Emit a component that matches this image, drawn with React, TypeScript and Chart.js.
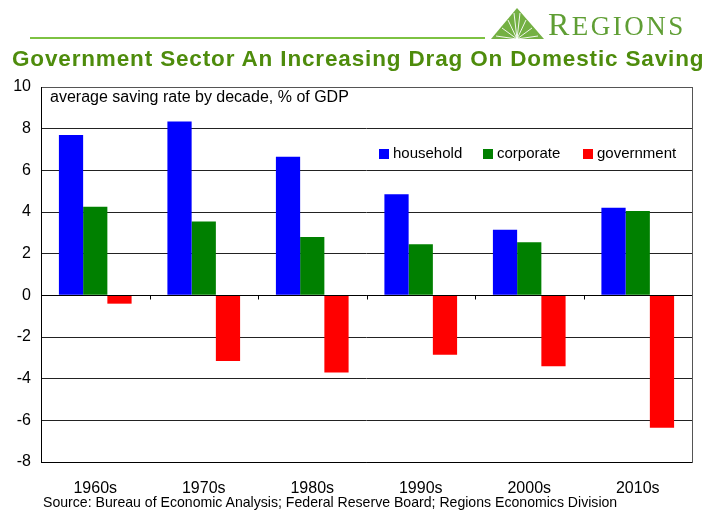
import React, { useEffect, useRef } from "react";
import { Chart, registerables } from "chart.js";
Chart.register(...registerables);

const categories = ["1960s", "1970s", "1980s", "1990s", "2000s", "2010s"];
const household = [7.7, 8.35, 6.65, 4.85, 3.15, 4.2];
const corporate = [4.25, 3.55, 2.8, 2.45, 2.55, 4.05];
const government = [-0.4, -3.15, -3.7, -2.85, -3.4, -6.35];
const seriesNames = ["household", "corporate", "government"];
const seriesColors = ["#0000ff", "#008000", "#ff0000"];
const yMin = -8;
const yMax = 10;
const yStep = 2;
const titleText = "Government Sector An Increasing Drag On Domestic Saving";
const subtitleText = "average saving rate by decade, % of GDP";
const sourceText = "Source: Bureau of Economic Analysis; Federal Reserve Board; Regions Economics Division";

const FONT = "'Liberation Sans', Arial, sans-serif";

const framePlugin = {
  id: "frame",
  afterDatasetsDraw(chart: any) {
    const { ctx, chartArea, scales } = chart;
    const { left, right, top, bottom } = chartArea;
    ctx.save();
    // zero line
    const y0 = Math.round(scales.y.getPixelForValue(0)) + 0.5;
    ctx.strokeStyle = "#000";
    ctx.lineWidth = 1;
    ctx.beginPath();
    ctx.moveTo(left, y0);
    ctx.lineTo(right, y0);
    ctx.stroke();
    // category tick marks on zero line
    const n = categories.length;
    for (let i = 1; i < n; i++) {
      const x = Math.round((scales.x.getPixelForValue(i - 1) + scales.x.getPixelForValue(i)) / 2) + 0.5;
      ctx.beginPath();
      ctx.moveTo(x, y0);
      ctx.lineTo(x, y0 + 4);
      ctx.stroke();
    }
    // frame
    ctx.strokeStyle = "#555";
    ctx.strokeRect(Math.round(left) + 0.5, Math.round(top) + 0.5, Math.round(right - left), Math.round(bottom - top));
    ctx.strokeStyle = "#000";
    ctx.beginPath();
    ctx.moveTo(Math.round(left) + 0.5, top);
    ctx.lineTo(Math.round(left) + 0.5, bottom);
    ctx.moveTo(left, Math.round(bottom) + 0.5);
    ctx.lineTo(right, Math.round(bottom) + 0.5);
    ctx.stroke();
    // subtitle
    ctx.fillStyle = "#000";
    ctx.font = `16px ${FONT}`;
    ctx.textBaseline = "middle";
    ctx.textAlign = "left";
    ctx.fillText(subtitleText, left + 9, top + 11);
    // legend
    ctx.font = `15px ${FONT}`;
    const legendX = [right - 313, right - 209, right - 109];
    const legendY = 154;
    chart.data.datasets.forEach((ds: any, i: number) => {
      ctx.fillStyle = ds.backgroundColor;
      ctx.fillRect(legendX[i], legendY - 5, 10, 10);
      ctx.fillStyle = "#000";
      ctx.fillText(ds.label, legendX[i] + 14, legendY);
    });
    ctx.restore();
  },
};

function ChartView() {
  const ref = useRef<HTMLCanvasElement>(null);
  useEffect(() => {
    if (!ref.current) return;
    const chart = new Chart(ref.current, {
      type: "bar",
      data: {
        labels: categories,
        datasets: [household, corporate, government].map((d, i) => ({
          label: seriesNames[i],
          data: d,
          backgroundColor: seriesColors[i],
          borderWidth: 0,
          categoryPercentage: 0.67,
          barPercentage: 1,
        })),
      },
      options: {
        animation: false,
        responsive: false,
        layout: { padding: { top: 87, right: 31, left: 0, bottom: 0 } },
        plugins: { legend: { display: false }, tooltip: { enabled: false } },
        scales: {
          x: {
            grid: { display: false, drawTicks: false },
            border: { display: false },
            ticks: { color: "#000", font: { family: FONT, size: 16 }, padding: 17 },
            afterFit: (s: any) => { s.height = 50; },
          },
          y: {
            min: yMin,
            max: yMax,
            grid: { color: "#222", drawTicks: false, lineWidth: 1 },
            border: { display: false },
            ticks: { stepSize: yStep, color: "#000", font: { family: FONT, size: 16 }, padding: 10 },
            afterFit: (s: any) => { s.width = 41; },
          },
        },
      },
      plugins: [framePlugin],
    });
    return () => chart.destroy();
  }, []);
  return <canvas ref={ref} width={723} height={512} style={{ position: "absolute", left: 0, top: 0, width: 723, height: 512 }} />;
}

function Logo() {
  const rays = [
    [6, 30], [12, 22], [18, 14], [24, 7], [30, 7], [36, 14], [42, 22], [48, 30],
  ];
  return (
    <div style={{ position: "absolute", left: 490, top: 6, width: 200, height: 36 }}>
      <svg width={56} height={34} style={{ position: "absolute", left: 0, top: 0 }}>
        <polygon points="1,33 27,2 54,33" fill="#74b043" />
        {rays.map((r, i) => (
          <line key={i} x1={27} y1={33} x2={r[0]} y2={r[1]} stroke="#ffffff" strokeWidth={0.9} />
        ))}
      </svg>
      <div
        style={{
          position: "absolute",
          left: 58,
          top: 0,
          fontFamily: "'Liberation Serif', 'DejaVu Serif', serif",
          color: "#5f9e34",
          whiteSpace: "nowrap",
          letterSpacing: 2.5,
          lineHeight: "36px",
        }}
      >
        <span style={{ fontSize: 32 }}>R</span>
        <span style={{ fontSize: 27 }}>EGIONS</span>
      </div>
    </div>
  );
}

export default function App() {
  return (
    <div style={{ position: "absolute", left: 0, top: 0, width: 723, height: 512, background: "#fff", overflow: "hidden" }}>
      <ChartView />
      <div style={{ position: "absolute", left: 30, top: 37, width: 455, height: 2, background: "#7dc242" }} />
      <Logo />
      <div
        style={{
          position: "absolute",
          left: 12,
          top: 46,
          fontFamily: FONT,
          fontWeight: "bold",
          fontSize: 22.5,
          letterSpacing: 0.85,
          color: "#4e8c0c",
          whiteSpace: "nowrap",
          lineHeight: "26px",
        }}
      >
        {titleText}
      </div>
      <div
        style={{
          position: "absolute",
          left: 43,
          top: 494,
          fontFamily: FONT,
          fontSize: 14.1,
          color: "#000",
          whiteSpace: "nowrap",
          lineHeight: "17px",
        }}
      >
        {sourceText}
      </div>
    </div>
  );
}
